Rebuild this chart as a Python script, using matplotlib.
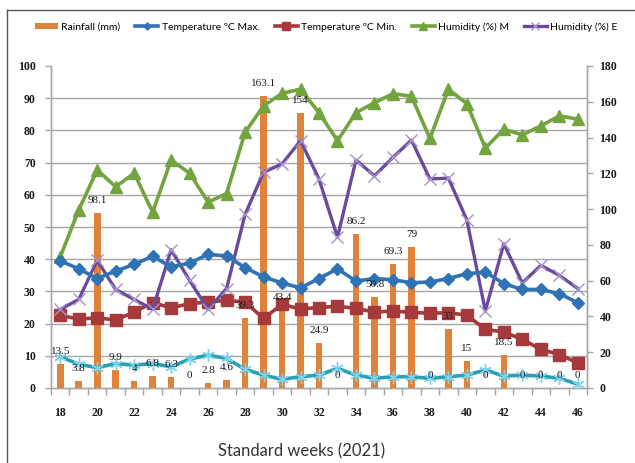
import numpy as np
import matplotlib
matplotlib.use("Agg")
import matplotlib.pyplot as plt
from matplotlib.lines import Line2D

weeks = list(range(18, 47))
rainfall = [13.5, 3.8, 98.1, 9.9, 4, 6.8, 6.3, 0, 2.8, 4.6, 39.3, 163.1, 43.4, 154, 24.9, 0,
            86.2, 50.8, 69.3, 79, 0, 33, 15, 0, 18.5, 0, 0, 0, 0]
rain_labels = ["13.5", "3.8", "98.1", "9.9", "4", "6.8", "6.3", "0", "2.8", "4.6", "39.3", "163.1",
               "43.4", "154", "24.9", "0", "86.2", "50.8", "69.3", "79", "0", "33", "15", "0",
               "18.5", "0", "0", "0", "0"]
tmax = [39.5, 37.0, 34.0, 36.3, 38.4, 40.9, 37.6, 38.8, 41.5, 41.0, 37.4, 34.5, 32.6, 31.1, 34.0,
        37.0, 33.2, 34.0, 33.6, 32.7, 32.9, 34.0, 35.5, 36.0, 32.4, 30.6, 30.6, 29.3, 26.5]
tmin = [22.6, 21.4, 21.8, 21.1, 23.6, 26.5, 24.9, 26.2, 26.7, 27.2, 26.7, 21.6, 26.0, 24.5, 25.0,
        25.4, 24.7, 23.6, 23.9, 23.5, 23.2, 23.4, 22.6, 18.2, 17.4, 15.1, 12.0, 10.4, 7.8]
hum_m = [40.7, 55.3, 67.7, 62.5, 66.7, 54.6, 70.8, 66.7, 57.7, 60.4, 79.4, 87.6, 91.5, 92.8, 85.5,
         76.8, 85.5, 88.6, 91.4, 90.6, 77.5, 92.8, 88.3, 74.5, 80.4, 78.6, 81.4, 84.5, 83.5]
hum_e = [24.4, 27.5, 39.6, 30.6, 27.5, 24.4, 42.9, 33.4, 24.4, 30.9, 53.9, 67.0, 69.6, 76.8, 64.9,
         46.8, 70.8, 65.9, 71.6, 77.0, 64.9, 65.2, 52.2, 23.9, 44.8, 32.6, 38.1, 35.0, 30.9]
sixth = [9.7, 7.4, 6.3, 7.6, 7.1, 7.6, 6.6, 9.0, 10.2, 9.2, 5.8, 4.0, 2.7, 3.5, 4.0, 6.1, 4.0, 3.0,
         3.5, 3.5, 3.0, 3.5, 4.0, 5.6, 3.7, 4.0, 3.7, 3.0, 1.2]

W, H = 635, 463
fig = plt.figure(figsize=(W / 100, H / 100), dpi=100)
L, R, T, B = 51, 587, 66, 388
ax = fig.add_axes([L / W, 1 - B / H, (R - L) / W, (B - T) / H])
ax2 = ax.twinx()
ax.set_zorder(2)
ax2.set_zorder(1)
ax.patch.set_visible(False)

x = np.arange(len(weeks))
grid_c = "#a6a6a6"

# bars (right axis)
ax2.bar(x, rainfall, width=0.36, color="#e0823a", zorder=2, label="Rainfall (mm)")
ax2.set_ylim(0, 180)
ax2.set_yticks(np.arange(0, 181, 20))
ax2.set_yticks(np.linspace(0, 180, 11), minor=True)
ax2.grid(which="minor", axis="y", color=grid_c, lw=1.0, zorder=0)
ax2.set_axisbelow(True)
ax2.tick_params(axis="y", which="minor", length=0)
ax2.tick_params(axis="y", which="major", length=4, width=1, color=grid_c, pad=5)

# lines (left axis)
ax.plot(x, sixth, color="#2aa0b8", lw=2.6, marker=(6, 2, 0), ms=9, mec="#7fd3ea", mew=1.0,
        zorder=3, label="_nolegend_")
ax.plot(x, tmax, color="#2f73b5", lw=2.6, marker="D", ms=6, mfc="#2f73b5", mec="#2f73b5",
        zorder=5, label="Temperature ºC Max.")
ax.plot(x, tmin, color="#a6393a", lw=2.6, marker="s", ms=9, mfc="#a6393a", mec="#a6393a",
        zorder=4, label="Temperature ºC Min.")
ax.plot(x, hum_m, color="#72a43f", lw=2.6, marker="^", ms=9, mfc="#72a43f", mec="#72a43f",
        zorder=4, label="Humidity (%) M")
ax.plot(x, hum_e, color="#6a4b9b", lw=2.4, marker="x", ms=9, mec="#a592cc", mew=1.0,
        zorder=4, label="Humidity (%) E")

ax.set_ylim(0, 100)
ax.set_yticks(np.arange(0, 101, 10))
ax.set_xlim(-0.5, len(weeks) - 0.5)
ax.set_xticks(x[::2])
ax.set_xticklabels([str(w) for w in weeks[::2]])
ax.set_xticks(np.arange(-0.5, len(weeks), 1), minor=True)
ax.tick_params(axis="x", which="major", length=0, pad=14)
ax.tick_params(axis="x", which="minor", length=5, width=1, color=grid_c)
ax.tick_params(axis="y", length=4, width=1, color=grid_c, pad=7)

for lab in ax.get_xticklabels() + ax.get_yticklabels() + ax2.get_yticklabels():
    lab.set_fontfamily("Liberation Serif")
    lab.set_fontweight("bold")
    lab.set_fontsize(8.5)
    lab.set_color("#1a1a1a")

for a in (ax, ax2):
    a.spines["top"].set_visible(False)
    for s in ("left", "right", "bottom"):
        a.spines[s].set_color(grid_c)
        a.spines[s].set_linewidth(1.0)

# data labels for rainfall
for xi, r, t in zip(x, rainfall, rain_labels):
    ax.annotate(t, xy=(xi, r), xycoords=ax2.transData, xytext=(0, 9),
                textcoords="offset points", ha="center", va="center",
                fontsize=8, family="Liberation Serif", color="#1a1a1a", zorder=10)

# x label
fig.text(302 / W, 1 - 451 / H, "Standard weeks (2021)", ha="center", va="center",
         fontsize=12, family="Lato", color="#333333")

# legend
handles = [ax2.containers[0]] + ax.get_lines()[1:]
labels = ["Rainfall (mm)", "Temperature ºC Max.", "Temperature ºC Min.", "Humidity (%) M",
          "Humidity (%) E"]
leg = fig.legend(handles, labels, loc="center left", bbox_to_anchor=(30 / W, 1 - 27 / H),
                 ncol=5, frameon=False, handlelength=2.2, handletextpad=0.3, columnspacing=1.45,
                 borderpad=0, markerscale=0.6, handleheight=0.6,
                 prop=dict(family="Lato", size=7.5))

# outer chart border
fig.add_artist(Line2D([7 / W, 7 / W], [0, 1 - 10 / H], color="#555555", lw=1.0))
fig.add_artist(Line2D([7 / W, 1], [1 - 10 / H, 1 - 10 / H], color="#555555", lw=1.0))

fig.savefig("out.png", dpi=100)
